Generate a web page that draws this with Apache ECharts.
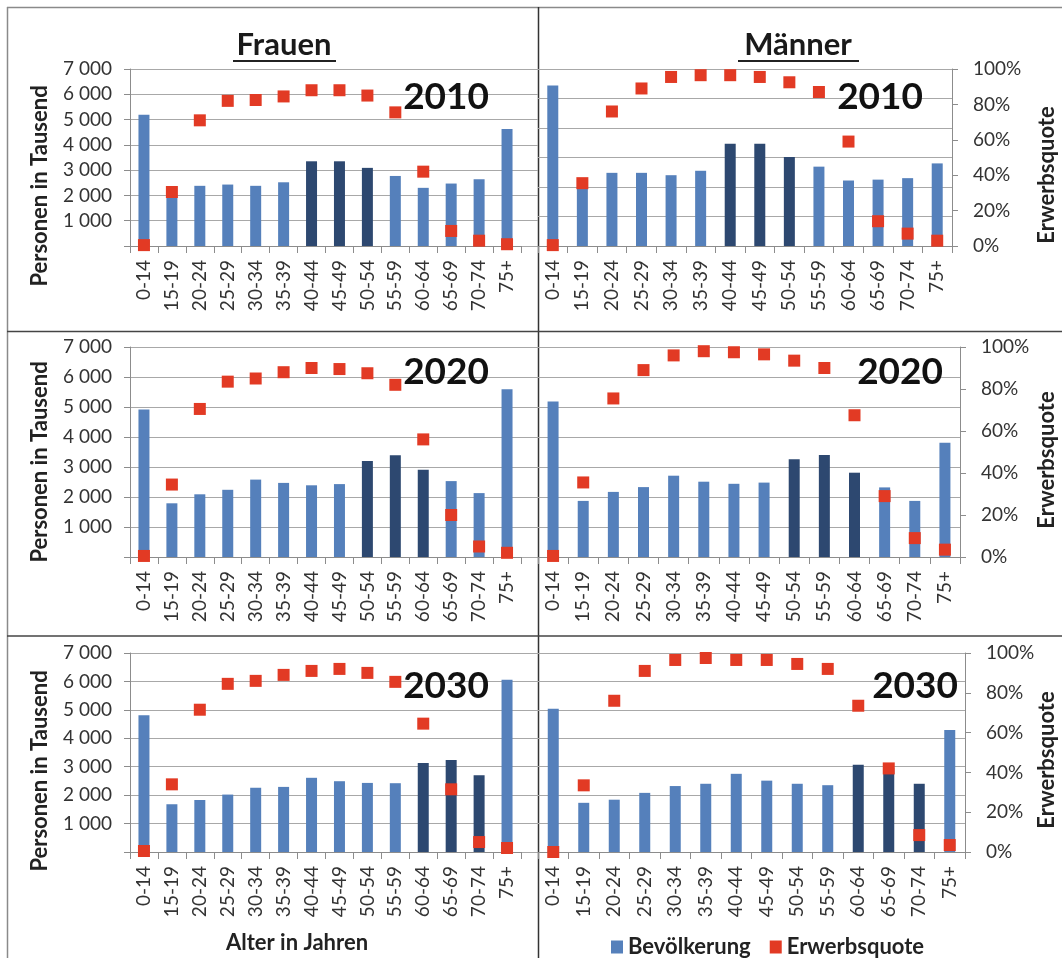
<!DOCTYPE html>
<html>
<head>
<meta charset="utf-8">
<script src="https://cdn.jsdelivr.net/npm/echarts@6/dist/echarts.min.js"></script>
<style>html,body{margin:0;padding:0;background:#fff}#c{width:1062px;height:958px}</style>
</head>
<body>
<div id="c"></div>
<script>
// ---------- data ----------
const categories = ['0-14','15-19','20-24','25-29','30-34','35-39','40-44','45-49','50-54','55-59','60-64','65-69','70-74','75+'];
const years = ['2010','2020','2030'];
const sexTitles = ['Frauen','Männer'];
const boomers2010 = ['40-44','45-49','50-54'];
const boomers2020 = ['50-54','55-59','60-64'];
const boomers2030 = ['60-64','65-69','70-74'];

// Bevölkerung in Tausend
const frauen2010  = [5190,1960,2380,2430,2380,2520,3350,3350,3090,2770,2300,2470,2640,4630];
const maenner2010 = [5440,2000,2480,2480,2400,2550,3470,3470,3020,2690,2220,2250,2300,2800];
const frauen2020  = [4920,1790,2090,2240,2580,2470,2390,2430,3200,3390,2910,2530,2130,5590];
const maenner2020 = [5180,1870,2170,2330,2710,2510,2440,2480,3260,3400,2810,2320,1870,3810];
const frauen2030  = [4810,1680,1830,2020,2260,2290,2610,2490,2430,2420,3130,3240,2700,6060];
const maenner2030 = [5040,1730,1840,2080,2320,2400,2750,2510,2400,2350,3070,2950,2400,4290];

// Erwerbsquote in %
const quoteF2010 = [0.5,30.5,71,82,82.5,84.5,88,88,85,75.5,42,8.5,3,1];
const quoteM2010 = [0.5,35.5,76,89,95.5,96.5,96.5,95.5,92.5,87,59,14,7,3];
const quoteF2020 = [0.5,34.5,70.5,83.5,85,88,90,89.5,87.5,82,56,20,5,2];
const quoteM2020 = [0.5,35.5,75.5,89,96,98,97.5,96.5,93.5,90,67.5,29,9,3.5];
const quoteF2030 = [0.5,34,71.5,84.5,86,89,91,92,90,85.5,64.5,31.5,5,2];
const quoteM2030 = [0,33.5,76,91,96.5,97.5,96.5,96.5,94.5,92,73.5,42,8.5,3.5];

const popMaxF = 7000;
const popMaxM = [6000,7000,7000];

// ---------- styles / layout ----------
const FONT = 'Lato, "Open Sans", sans-serif';
const blue = '#5580BB', dark = '#2D4870', red = '#E23A24';
const axisCol = '#8c8c8c', gridCol = '#a8a8a8', labelCol = '#333333';
const rowTop = [69,347,653], rowBot = [246,557,852];
const fLeft = 130, fRight = 521, mLeft = 538, mRight = [952,960,965];

const panels = [
  {side:'F', row:0, pop:frauen2010,  quote:quoteF2010, boom:boomers2010, max:popMaxF},
  {side:'M', row:0, pop:maenner2010, quote:quoteM2010, boom:boomers2010, max:popMaxM[0]},
  {side:'F', row:1, pop:frauen2020,  quote:quoteF2020, boom:boomers2020, max:popMaxF},
  {side:'M', row:1, pop:maenner2020, quote:quoteM2020, boom:boomers2020, max:popMaxM[1]},
  {side:'F', row:2, pop:frauen2030,  quote:quoteF2030, boom:boomers2030, max:popMaxF},
  {side:'M', row:2, pop:maenner2030, quote:quoteM2030, boom:boomers2030, max:popMaxM[2]}
];

const grids=[], xAxes=[], yAxes=[], series=[];
panels.forEach(p=>{
  const top = rowTop[p.row], h = rowBot[p.row]-top;
  const left = p.side==='F' ? fLeft : mLeft;
  const right = p.side==='F' ? fRight : mRight[p.row];
  grids.push({left, top, width:right-left, height:h, outerBoundsMode:'none'});
  const gi = grids.length-1;
  const isF = p.side==='F';
  xAxes.push({
    type:'category', gridIndex:gi, data:categories,
    axisLine:{show:true, lineStyle:{color:axisCol, width:1}},
    axisTick:{show:true, length:7, lineStyle:{color:axisCol}},
    axisLabel:{interval:0, rotate:90, margin:14, fontSize:19, fontFamily:FONT, color:labelCol},
    splitLine:{show:false}
  });
  const ly = yAxes.length;
  yAxes.push({
    type:'value', gridIndex:gi, position:'left', min:0, max:p.max, interval:1000,
    axisLine:{show:isF, lineStyle:{color:axisCol}},
    axisTick:{show:isF, length:6, lineStyle:{color:axisCol}},
    axisLabel:{show:isF, margin:18, fontSize:19, fontFamily:FONT, color:labelCol,
      formatter:v => v===0 ? '' : (v/1000)+' 000'},
    splitLine:{show:true, lineStyle:{color:gridCol, width:1}}
  });
  yAxes.push({
    type:'value', gridIndex:gi, position:'right', min:0, max:100, interval:20, show:!isF,
    axisLine:{show:true, lineStyle:{color:axisCol}},
    axisTick:{show:true, length:6, lineStyle:{color:axisCol}},
    axisLabel:{margin:21, fontSize:19, fontFamily:FONT, color:labelCol, formatter:'{value}%'},
    splitLine:{show:false}
  });
  series.push({
    type:'bar', name:'Bevölkerung', xAxisIndex:gi, yAxisIndex:ly, barWidth:11,
    itemStyle:{color:blue},
    data:p.pop.map((v,k)=>({value:v, itemStyle:{color: p.boom.includes(categories[k]) ? dark : blue}}))
  });
  series.push({
    type:'scatter', name:'Erwerbsquote', xAxisIndex:gi, yAxisIndex:ly+1, symbol:'rect', symbolSize:12,
    itemStyle:{color:red, opacity:1}, z:5, data:p.quote
  });
});

// gridline continuation between the Frauen plot and the panel divider
rowTop.forEach((top,r)=>{
  grids.push({left:fRight, top, width:mLeft-fRight, height:rowBot[r]-top, outerBoundsMode:'none'});
  const gi = grids.length-1;
  xAxes.push({type:'value', gridIndex:gi, show:false, min:0, max:1});
  yAxes.push({type:'value', gridIndex:gi, min:0, max:popMaxF, interval:1000,
    axisLine:{show:false}, axisTick:{show:false}, axisLabel:{show:false},
    splitLine:{show:true, lineStyle:{color:gridCol, width:1}}});
});

// ---------- text / frame graphics ----------
const graphic = [];
const txt = (text,x,y,font,opts={}) => graphic.push(Object.assign({
  type:'text', x, y, rotation:opts.rot||0,
  style:{text, font, fill:opts.fill||'#1a1a1a', align:opts.align||'center', verticalAlign:'middle'}
}, {z:10}));
// panel titles
txt(sexTitles[0], 284, 45, 'bold 31px '+FONT);
txt(sexTitles[1], 798, 45, 'bold 31px '+FONT);
graphic.push({type:'line', shape:{x1:233,y1:61,x2:336,y2:61}, style:{stroke:'#222', lineWidth:2}});
graphic.push({type:'line', shape:{x1:738,y1:61,x2:859,y2:61}, style:{stroke:'#222', lineWidth:2}});
// year labels
const yearY = [97,372,686];
const mYearRight = [923,943,958];
years.forEach((y,r)=>{
  txt(y, 489, yearY[r], 'bold 37px '+FONT, {align:'right', fill:'#111'});
  txt(y, mYearRight[r], yearY[r], 'bold 37px '+FONT, {align:'right', fill:'#111'});
  txt('Personen in Tausend', 40, [186,462,771][r], 'bold 22px '+FONT, {rot:Math.PI/2, fill:'#222'});
  txt('Erwerbsquote', 1047, [175,460,760][r], 'bold 22px '+FONT, {rot:Math.PI/2, fill:'#222'});
});
txt('Alter in Jahren', 297, 943, 'bold 22px '+FONT, {fill:'#222'});
// frame and dividers
graphic.push({type:'line', shape:{x1:7,y1:7.5,x2:1062,y2:7.5}, style:{stroke:'#8a8a8a', lineWidth:1.5}});
graphic.push({type:'line', shape:{x1:7.5,y1:7,x2:7.5,y2:958}, style:{stroke:'#8a8a8a', lineWidth:1.5}});
graphic.push({type:'line', shape:{x1:538.5,y1:7,x2:538.5,y2:958}, style:{stroke:'#333', lineWidth:1.5}});
graphic.push({type:'line', shape:{x1:7,y1:331.5,x2:1062,y2:331.5}, style:{stroke:'#444', lineWidth:1.5}});
graphic.push({type:'line', shape:{x1:7,y1:636,x2:1062,y2:636}, style:{stroke:'#444', lineWidth:1.5}});

const chart = echarts.init(document.getElementById('c'), null, {renderer:'canvas'});
chart.setOption({
  animation:false,
  backgroundColor:'#ffffff',
  grid:grids, xAxis:xAxes, yAxis:yAxes, series,
  legend:{
    data:['Bevölkerung','Erwerbsquote'], left:606, top:931, icon:'rect',
    itemWidth:12, itemHeight:13, itemGap:19, selectedMode:false,
    textStyle:{fontSize:22, fontWeight:'bold', fontFamily:FONT, color:'#222'}
  },
  graphic
});
</script>
</body>
</html>
